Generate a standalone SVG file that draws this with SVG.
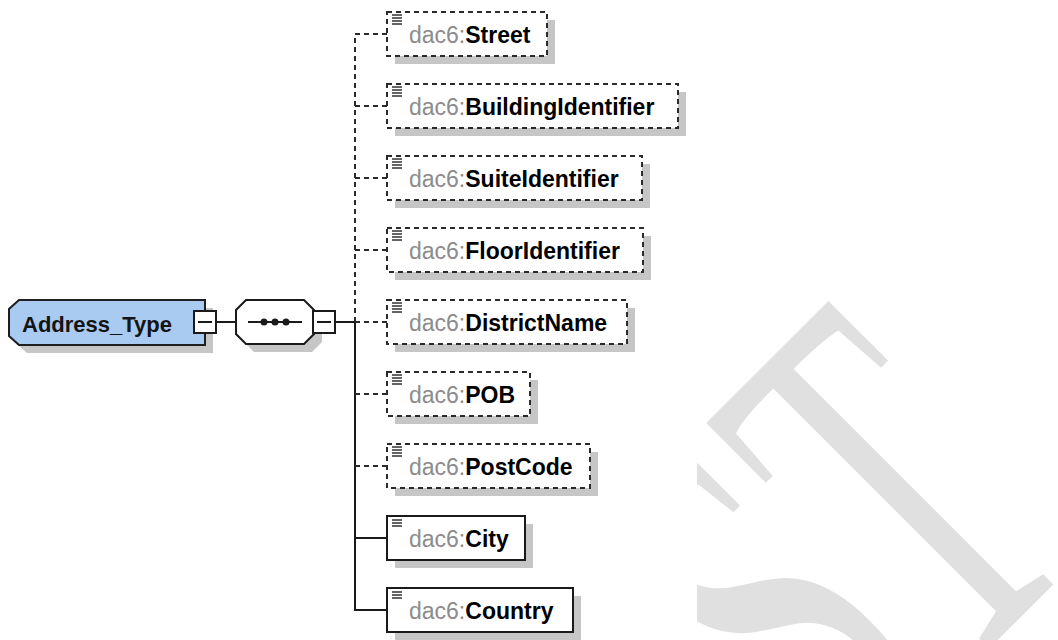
<svg xmlns="http://www.w3.org/2000/svg" width="1058" height="640" viewBox="0 0 1058 640">
<defs>
<style>
.shadow{fill:#c6c6c6;stroke:none}
.opt{fill:#fff;stroke:#2a2a2a;stroke-width:2;stroke-dasharray:5 4}
.req{fill:#fff;stroke:#1a1a1a;stroke-width:2}
.lbl{font-family:"Liberation Sans",Arial,sans-serif;font-size:23px}
.pre{fill:#8c8c8c}
.nm{fill:#000;font-weight:bold}
.icon{stroke:#333;stroke-width:1.6}
.cd{fill:none;stroke:#2a2a2a;stroke-width:2;stroke-dasharray:5 4}
.cs{fill:none;stroke:#1a1a1a;stroke-width:2}
.minus{fill:#fff;stroke:#1a1a1a;stroke-width:2}
</style>
<clipPath id="wmclip" clipPathUnits="userSpaceOnUse"><rect x="697" y="0" width="361" height="640"/></clipPath>
</defs>
<rect width="1058" height="640" fill="#fff"/>
<g id="watermark" clip-path="url(#wmclip)">
<text transform="rotate(-45) translate(378,1158) scale(1,1.83)" x="0" y="0" text-anchor="end" font-family="Liberation Serif,'Times New Roman',serif" font-size="300" fill="#e0e0e0">ST</text>
</g>
<g id="connectors">
<line class="cs" x1="216" y1="322" x2="236" y2="322"/>
<line class="cs" x1="335" y1="322" x2="355" y2="322"/>
<path class="cd" d="M387,34 H355 V322"/>
<path class="cs" d="M355,322 V610 H387"/>
<line class="cd" x1="355" y1="106" x2="387" y2="106"/>
<line class="cd" x1="355" y1="178" x2="387" y2="178"/>
<line class="cd" x1="355" y1="250" x2="387" y2="250"/>
<line class="cd" x1="355" y1="322" x2="387" y2="322"/>
<line class="cd" x1="355" y1="394" x2="387" y2="394"/>
<line class="cd" x1="355" y1="466" x2="387" y2="466"/>
<line class="cs" x1="355" y1="538" x2="387" y2="538"/>
</g>
<g id="Address_Type">
<path class="shadow" d="M27,308 H213 V353 H27 L17,344 V317 Z"/>
<path d="M19,300 H205 V345 H19 L9,336 V309 Z" fill="#a9caf1" stroke="#1e1e1e" stroke-width="2"/>
<text x="22" y="332" font-family="'Liberation Sans',Arial,sans-serif" font-size="22" font-weight="bold" fill="#141414">Address_Type</text>
<rect class="minus" x="194" y="311" width="22" height="22"/>
<line x1="198" y1="322" x2="212" y2="322" stroke="#1a1a1a" stroke-width="2"/>
</g>
<g id="sequence">
<polygon class="shadow" points="254,308 312,308 322,318 322,342 312,352 254,352 244,342 244,318"/>
<polygon points="246,300 304,300 314,310 314,334 304,344 246,344 236,334 236,310" fill="#fff" stroke="#1a1a1a" stroke-width="2"/>
<line x1="248" y1="322" x2="302" y2="322" stroke="#1a1a1a" stroke-width="2"/>
<circle cx="264" cy="322" r="3.5" fill="#1a1a1a"/>
<circle cx="275" cy="322" r="3.5" fill="#1a1a1a"/>
<circle cx="286" cy="322" r="3.5" fill="#1a1a1a"/>
<rect class="minus" x="313" y="311" width="22" height="22"/>
<line x1="317" y1="322" x2="331" y2="322" stroke="#1a1a1a" stroke-width="2"/>
</g>
<g id="Street">
<rect class="shadow" x="395" y="20" width="160" height="44"/>
<rect class="opt" x="387" y="12" width="160" height="44"/>
<path class="icon" d="M392,15 h10 M392,18 h10 M392,21 h10 M392,24 h10"/>
<text class="lbl" x="409" y="43"><tspan class="pre">dac6:</tspan><tspan class="nm">Street</tspan></text>
</g>
<g id="BuildingIdentifier">
<rect class="shadow" x="395" y="92" width="291" height="44"/>
<rect class="opt" x="387" y="84" width="291" height="44"/>
<path class="icon" d="M392,87 h10 M392,90 h10 M392,93 h10 M392,96 h10"/>
<text class="lbl" x="409" y="115"><tspan class="pre">dac6:</tspan><tspan class="nm">BuildingIdentifier</tspan></text>
</g>
<g id="SuiteIdentifier">
<rect class="shadow" x="395" y="164" width="255" height="44"/>
<rect class="opt" x="387" y="156" width="255" height="44"/>
<path class="icon" d="M392,159 h10 M392,162 h10 M392,165 h10 M392,168 h10"/>
<text class="lbl" x="409" y="187"><tspan class="pre">dac6:</tspan><tspan class="nm">SuiteIdentifier</tspan></text>
</g>
<g id="FloorIdentifier">
<rect class="shadow" x="395" y="236" width="256" height="44"/>
<rect class="opt" x="387" y="228" width="256" height="44"/>
<path class="icon" d="M392,231 h10 M392,234 h10 M392,237 h10 M392,240 h10"/>
<text class="lbl" x="409" y="259"><tspan class="pre">dac6:</tspan><tspan class="nm">FloorIdentifier</tspan></text>
</g>
<g id="DistrictName">
<rect class="shadow" x="395" y="308" width="240" height="44"/>
<rect class="opt" x="387" y="300" width="240" height="44"/>
<path class="icon" d="M392,303 h10 M392,306 h10 M392,309 h10 M392,312 h10"/>
<text class="lbl" x="409" y="331"><tspan class="pre">dac6:</tspan><tspan class="nm">DistrictName</tspan></text>
</g>
<g id="POB">
<rect class="shadow" x="395" y="380" width="143" height="44"/>
<rect class="opt" x="387" y="372" width="143" height="44"/>
<path class="icon" d="M392,375 h10 M392,378 h10 M392,381 h10 M392,384 h10"/>
<text class="lbl" x="409" y="403"><tspan class="pre">dac6:</tspan><tspan class="nm">POB</tspan></text>
</g>
<g id="PostCode">
<rect class="shadow" x="395" y="452" width="203" height="44"/>
<rect class="opt" x="387" y="444" width="203" height="44"/>
<path class="icon" d="M392,447 h10 M392,450 h10 M392,453 h10 M392,456 h10"/>
<text class="lbl" x="409" y="475"><tspan class="pre">dac6:</tspan><tspan class="nm">PostCode</tspan></text>
</g>
<g id="City">
<rect class="shadow" x="395" y="524" width="138" height="44"/>
<rect class="req" x="387" y="516" width="138" height="44"/>
<path class="icon" d="M392,520 h10 M392,523 h10 M392,526 h10"/>
<text class="lbl" x="409" y="547"><tspan class="pre">dac6:</tspan><tspan class="nm">City</tspan></text>
</g>
<g id="Country">
<rect class="shadow" x="395" y="596" width="186" height="44"/>
<rect class="req" x="387" y="588" width="186" height="44"/>
<path class="icon" d="M392,592 h10 M392,595 h10 M392,598 h10"/>
<text class="lbl" x="409" y="619"><tspan class="pre">dac6:</tspan><tspan class="nm">Country</tspan></text>
</g>
</svg>
